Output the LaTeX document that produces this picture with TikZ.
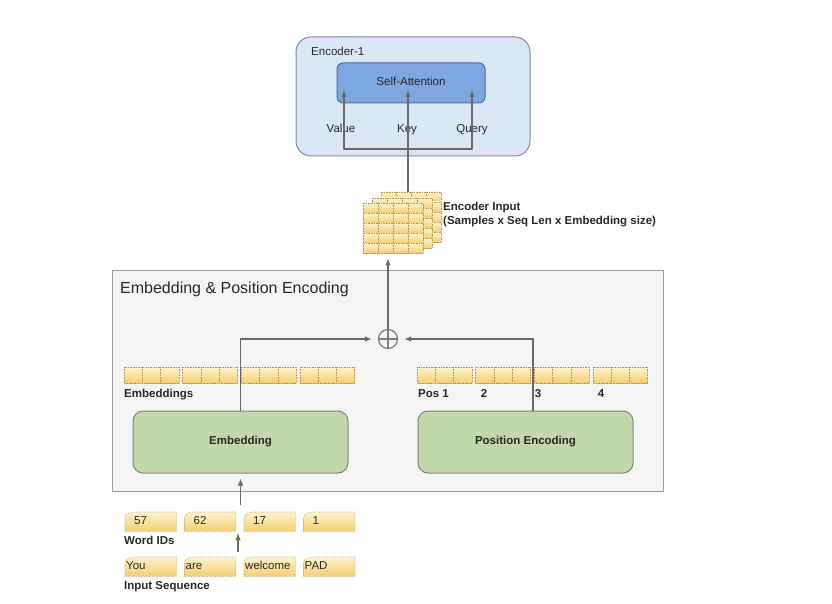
\documentclass[tikz,border=0pt]{standalone}
\usepackage{fontspec}
\setmainfont{Liberation Sans}
\usetikzlibrary{arrows.meta,backgrounds}

\definecolor{encfill}{RGB}{218,232,246}
\definecolor{encline}{RGB}{120,140,165}
\definecolor{attfill}{RGB}{126,166,224}
\definecolor{attline}{RGB}{80,110,160}
\definecolor{grpfill}{RGB}{245,245,245}
\definecolor{grpline}{RGB}{155,155,155}
\definecolor{boxfill}{RGB}{192,216,170}
\definecolor{boxline}{RGB}{125,135,120}
\definecolor{celltop}{RGB}{255,244,208}
\definecolor{cellbot}{RGB}{242,207,112}
\definecolor{cellline}{RGB}{180,150,80}
\definecolor{wirecol}{RGB}{105,105,105}
\definecolor{ink}{RGB}{40,40,40}

\tikzset{
  txt/.style={text=ink, inner sep=0pt, font=\fontsize{11.5}{14}\selectfont},
  btxt/.style={txt, font=\fontsize{11.5}{14}\selectfont\bfseries},
  wire/.style={draw=wirecol, line width=1.1pt},
  arr/.style={wire, -{Latex[length=7pt,width=5.5pt]}},
  cell/.style={draw=cellline, densely dotted, line width=0.6pt, top color=celltop, bottom color=cellbot},
  encbox/.style={draw=encline, fill=encfill, line width=1pt, rounded corners=15pt,
    minimum width=234pt, minimum height=119pt},
  attbox/.style={txt, draw=attline, fill=attfill, line width=1pt, rounded corners=6pt,
    minimum width=148pt, minimum height=40pt},
  grpbox/.style={draw=grpline, fill=grpfill, line width=1pt, minimum width=551pt, minimum height=221pt},
  greenbox/.style={btxt, draw=boxline, fill=boxfill, line width=1pt, rounded corners=10pt,
    minimum width=215pt, minimum height=62pt},
  sumnode/.style={circle, draw=wirecol!85, line width=1.3pt, minimum size=19pt, inner sep=0pt},
  plusbar/.style={draw=wirecol!85, line width=1.8pt},
  idbox/.style={txt, anchor=north west, minimum height=19pt, inner xsep=9pt, text width=33pt, align=left},
  tokbox/.style={txt, anchor=north west, minimum height=19pt, inner xsep=1pt, text width=49pt, align=left}
}

\begin{document}
\begin{tikzpicture}[x=1pt, y=-1pt, line join=round]
  \useasboundingbox (0,0) rectangle (832,604);

  % encoder block
  \node[encbox] (enc) at (413,96.5) {};
  \node[txt, anchor=west] (enclab) at (311,51) {Encoder-1};
  \node[attbox] (att) at (411,83) {\raisebox{3pt}{Self-Attention}};
  \node[txt, anchor=base] (vlab) at (341,133) {Value};
  \node[txt, anchor=base] (klab) at (407,133) {Key};
  \node[txt, anchor=base] (qlab) at (472,133) {Query};
  \coordinate (vtip) at (344,90);
  \coordinate (ktip) at (408,90);
  \coordinate (qtip) at (472,90);
  \coordinate (split) at (408,149);

  % encoder input, three stacked grids
  \foreach \dx/\dy in {18/-11, 9/-5, 0/0}
    \foreach \c in {0,...,3}
      \foreach \r in {0,...,4}
        \draw[cell] ({363+\dx+15*\c},{203+\dy+10*\r}) rectangle ++(15,10);
  \node[minimum width=60pt, minimum height=50pt, inner sep=0pt, anchor=north west] (inback) at (381,192) {};
  \node[minimum width=60pt, minimum height=50pt, inner sep=0pt, anchor=north west] (infront) at (363,203) {};
  \node[btxt, anchor=west, align=left] (inlab) at (443,215) {Encoder Input\\(Samples x Seq Len x Embedding size)};

  % embedding and position encoding
  \node[grpbox] (grp) at (387.5,380.5) {};
  \node[txt, font=\fontsize{16}{19}\selectfont, anchor=west] (grplab) at (120,289) {Embedding \& Position Encoding};
  \node[greenbox] (embbox) at (240.5,442) {Embedding};
  \node[greenbox] (posbox) at (525.5,442) {Position Encoding};
  \node[sumnode] (sum) at (388,339) {};
  \draw[plusbar] (sum.north) -- (sum.south) (sum.west) -- (sum.east);

  \foreach \i in {0,...,3}
    \foreach \c in {0,1,2} {
      \draw[cell] ({124+58.6*\i+18.33*\c},367) rectangle ++(18.33,16);
      \draw[cell] ({417+58.6*\i+18.33*\c},367) rectangle ++(18.33,16);
    }
  \node[btxt, anchor=base west] (emblab) at (124,397) {Embeddings};
  \node[btxt, anchor=base west] (pos1) at (418,397) {Pos 1};
  \node[btxt, anchor=base] (pos2) at (484,397) {2};
  \node[btxt, anchor=base] (pos3) at (538,397) {3};
  \node[btxt, anchor=base] (pos4) at (601,397) {4};

  % word ids and input tokens
  \foreach \n/\x/\t/\w in {1/125/57/You, 2/184.5/62/are, 3/244/17/welcome, 4/303.5/1/PAD} {
    \node[idbox] (id\n) at (\x,512) {\strut\t};
    \node[tokbox] (tok\n) at (\x,557) {\strut\w};
  }
  \begin{scope}[on background layer]
    \foreach \b in {id1,id2,id3,id4,tok1,tok2,tok3,tok4}
      \draw[cell] (\b.south west) -- ([yshift=-6pt]\b.north west) to[out=90,in=180]
        ([xshift=10pt]\b.north west) -- (\b.north east) -- (\b.south east) -- cycle;
  \end{scope}
  \node[btxt, anchor=base west] (idlab) at (124,544) {Word IDs};
  \node[btxt, anchor=base west] (seqlab) at (124,589) {Input Sequence};
  \coordinate (seqtop) at (238,552);
  \coordinate (idfoot) at (238,533);

  % connectors
  \draw[arr] (seqtop) -- (idfoot);
  \draw[arr, shorten >=5pt] ([yshift=7pt]id3.north -| embbox.south) -- (embbox.south);
  \draw[arr, shorten >=6pt] (embbox.north) |- (sum.west);
  \draw[arr, shorten >=6pt] ([xshift=7.5pt]posbox.north) |- (sum.east);
  \draw[arr, shorten >=5pt] (sum.north) -- (sum.north |- infront.south);
  \draw[arr] (inback.north -| ktip) -- (ktip);
  \draw[arr] (split) -| (vtip);
  \draw[arr] (split) -| (qtip);
\end{tikzpicture}
\end{document}
